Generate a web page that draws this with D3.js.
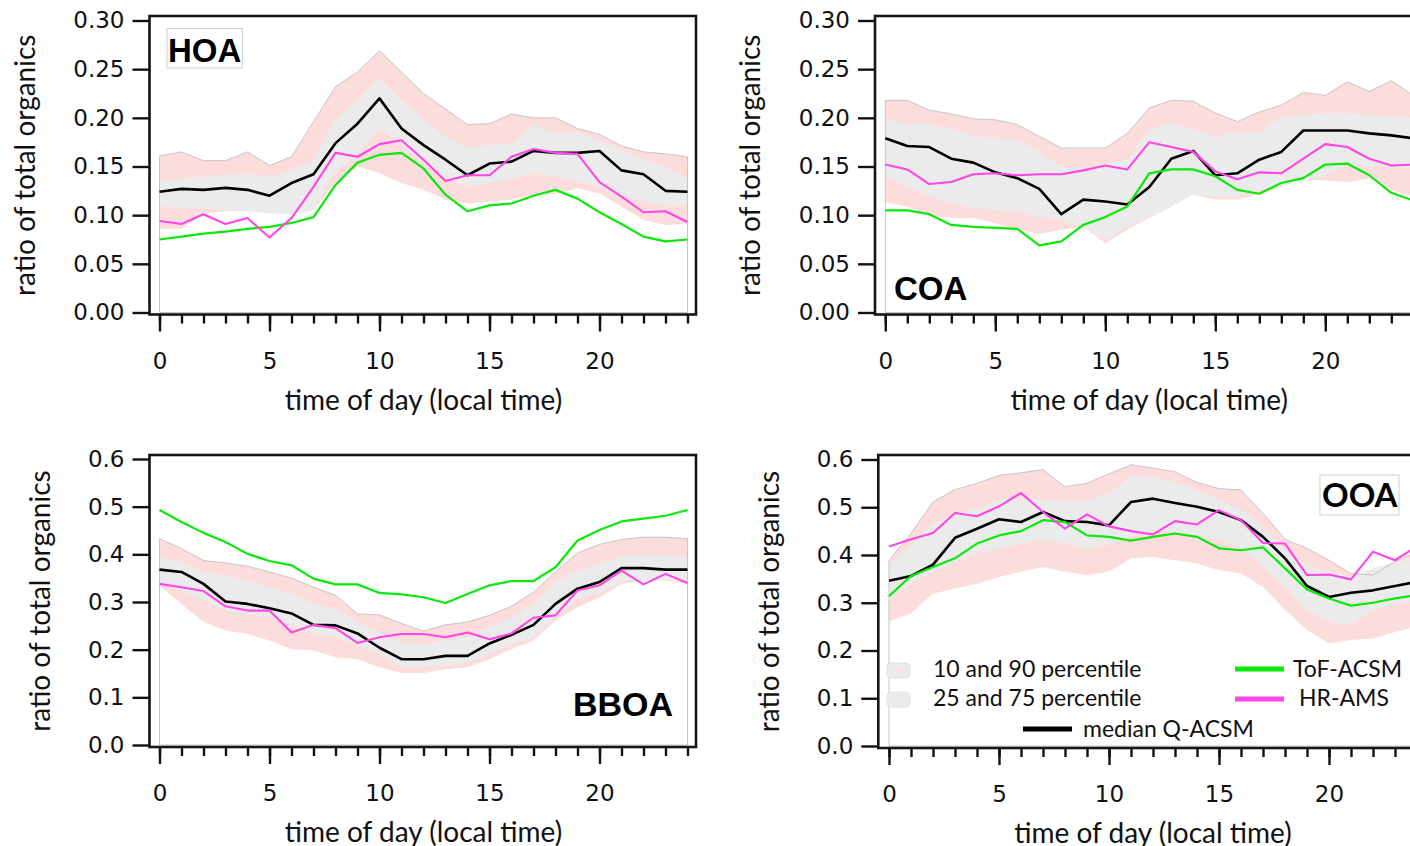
<!DOCTYPE html>
<html>
<head>
<meta charset="utf-8">
<script src="https://cdn.jsdelivr.net/npm/d3@7"></script>
<style>
  html, body { margin: 0; padding: 0; background: #fff; }
  svg { display: block; }
  .tick text { font-family: "DejaVu Sans", sans-serif; font-size: 23px; fill: #111; }
  .ttl { font-family: Lato, "Open Sans", sans-serif; font-size: 28px; fill: #111; }
  .leg { font-family: Lato, "Open Sans", sans-serif; font-size: 23px; fill: #111; }
</style>
</head>
<body>
<script>
// Hour of day (local time)
const hours = [0,1,2,3,4,5,6,7,8,9,10,11,12,13,14,15,16,17,18,19,20,21,22,23,24];
const xMajorTicks = [0,5,10,15,20];
const yTicksSmall = [0,0.05,0.10,0.15,0.20,0.25,0.30];
const yTicksLarge = [0,0.1,0.2,0.3,0.4,0.5,0.6];

// HOA: Q-ACSM percentiles and median, ToF-ACSM, HR-AMS
const hoaP10 = [0.086,0.086,0.102,0.104,0.104,0.102,0.101,0.105,0.133,0.150,0.143,0.133,0.126,0.116,0.112,0.114,0.116,0.121,0.122,0.128,0.122,0.109,0.095,0.090,0.091];
const hoaP25 = [0.109,0.107,0.107,0.105,0.104,0.102,0.101,0.105,0.146,0.163,0.189,0.172,0.153,0.138,0.129,0.133,0.138,0.143,0.140,0.134,0.129,0.121,0.114,0.109,0.110];
const hoaP75 = [0.136,0.138,0.140,0.141,0.143,0.139,0.146,0.157,0.198,0.218,0.241,0.218,0.198,0.181,0.169,0.172,0.174,0.193,0.184,0.186,0.176,0.167,0.157,0.150,0.138];
const hoaP90 = [0.161,0.165,0.156,0.156,0.165,0.151,0.160,0.196,0.232,0.247,0.269,0.247,0.225,0.209,0.193,0.194,0.204,0.200,0.200,0.189,0.183,0.171,0.165,0.163,0.160];
const hoaMedian = [0.124,0.127,0.126,0.128,0.126,0.120,0.133,0.142,0.174,0.194,0.220,0.189,0.172,0.157,0.141,0.153,0.155,0.166,0.164,0.164,0.166,0.146,0.142,0.125,0.124];
const hoaTof = [0.075,0.078,0.081,0.083,0.086,0.088,0.092,0.098,0.131,0.154,0.162,0.164,0.148,0.121,0.104,0.110,0.112,0.120,0.126,0.117,0.103,0.091,0.078,0.073,0.075];
const hoaHr = [0.094,0.091,0.101,0.091,0.097,0.077,0.097,0.129,0.164,0.160,0.173,0.177,0.157,0.135,0.141,0.141,0.160,0.168,0.164,0.163,0.134,0.119,0.103,0.104,0.093];

// COA
const coaP10 = [0.113,0.109,0.100,0.097,0.097,0.092,0.085,0.081,0.085,0.088,0.071,0.085,0.097,0.109,0.121,0.116,0.116,0.122,0.129,0.136,0.136,0.134,0.138,0.126,0.119];
const coaP25 = [0.140,0.129,0.119,0.112,0.107,0.105,0.104,0.098,0.095,0.086,0.075,0.088,0.098,0.109,0.121,0.119,0.119,0.126,0.129,0.136,0.140,0.152,0.150,0.150,0.148];
const coaP75 = [0.198,0.194,0.193,0.189,0.181,0.179,0.177,0.165,0.150,0.148,0.153,0.157,0.189,0.194,0.189,0.181,0.185,0.186,0.200,0.203,0.205,0.205,0.203,0.201,0.200];
const coaP90 = [0.218,0.218,0.208,0.204,0.199,0.198,0.193,0.181,0.169,0.169,0.169,0.184,0.210,0.218,0.217,0.205,0.196,0.206,0.213,0.226,0.223,0.237,0.227,0.238,0.223];
const coaMedian = [0.179,0.171,0.170,0.158,0.154,0.144,0.138,0.127,0.101,0.116,0.114,0.111,0.129,0.158,0.166,0.141,0.143,0.157,0.165,0.187,0.187,0.187,0.184,0.182,0.179];
const coaTof = [0.105,0.105,0.101,0.090,0.088,0.087,0.086,0.069,0.073,0.090,0.098,0.109,0.143,0.147,0.147,0.140,0.126,0.122,0.133,0.138,0.152,0.153,0.141,0.123,0.115];
const coaHr = [0.152,0.147,0.132,0.134,0.142,0.143,0.141,0.142,0.142,0.146,0.151,0.147,0.175,0.170,0.165,0.145,0.137,0.144,0.143,0.158,0.173,0.170,0.158,0.151,0.152];

// BBOA
const bboaP10 = [0.335,0.296,0.258,0.240,0.233,0.219,0.201,0.198,0.184,0.180,0.163,0.151,0.151,0.159,0.163,0.180,0.201,0.219,0.261,0.289,0.310,0.338,0.345,0.345,0.338];
const bboaP25 = [0.338,0.324,0.303,0.282,0.275,0.268,0.254,0.233,0.226,0.208,0.191,0.163,0.163,0.166,0.173,0.191,0.212,0.226,0.268,0.307,0.317,0.345,0.345,0.345,0.342];
const bboaP75 = [0.394,0.384,0.363,0.356,0.345,0.331,0.317,0.296,0.286,0.258,0.236,0.215,0.212,0.219,0.226,0.247,0.268,0.296,0.342,0.366,0.380,0.394,0.398,0.398,0.394];
const bboaP90 = [0.433,0.412,0.387,0.382,0.375,0.363,0.350,0.331,0.314,0.275,0.273,0.255,0.239,0.252,0.258,0.272,0.291,0.321,0.363,0.403,0.421,0.431,0.436,0.436,0.433];
const bboaMedian = [0.368,0.363,0.338,0.301,0.296,0.287,0.276,0.252,0.251,0.234,0.204,0.180,0.180,0.187,0.187,0.213,0.231,0.252,0.296,0.328,0.342,0.371,0.371,0.368,0.368];
const bboaTof = [0.493,0.468,0.445,0.426,0.401,0.386,0.377,0.349,0.337,0.337,0.319,0.316,0.310,0.298,0.317,0.335,0.344,0.344,0.373,0.429,0.451,0.469,0.475,0.481,0.493];
const bboaHr = [0.338,0.331,0.323,0.291,0.282,0.282,0.236,0.252,0.245,0.214,0.226,0.233,0.233,0.226,0.236,0.222,0.234,0.267,0.272,0.324,0.335,0.366,0.337,0.359,0.340];

// OOA
const ooaP10 = [0.260,0.278,0.319,0.330,0.340,0.354,0.365,0.375,0.365,0.358,0.365,0.393,0.396,0.389,0.382,0.368,0.361,0.333,0.285,0.243,0.215,0.222,0.225,0.239,0.250];
const ooaP25 = [0.305,0.340,0.365,0.386,0.403,0.414,0.424,0.431,0.424,0.414,0.421,0.438,0.452,0.448,0.438,0.431,0.414,0.375,0.333,0.285,0.260,0.253,0.285,0.298,0.305];
const ooaP75 = [0.379,0.424,0.466,0.487,0.497,0.515,0.518,0.518,0.511,0.515,0.529,0.567,0.563,0.553,0.536,0.515,0.497,0.459,0.410,0.379,0.365,0.354,0.372,0.386,0.389];
const ooaP90 = [0.389,0.445,0.511,0.537,0.550,0.567,0.572,0.579,0.543,0.550,0.570,0.589,0.582,0.574,0.552,0.539,0.536,0.487,0.433,0.414,0.389,0.361,0.358,0.386,0.407];
const ooaMedian = [0.346,0.356,0.380,0.436,0.455,0.475,0.469,0.490,0.471,0.469,0.462,0.511,0.518,0.509,0.501,0.490,0.473,0.438,0.393,0.335,0.312,0.321,0.326,0.335,0.344];
const ooaTof = [0.314,0.356,0.375,0.393,0.424,0.441,0.450,0.473,0.469,0.441,0.438,0.430,0.438,0.445,0.438,0.414,0.410,0.416,0.372,0.328,0.309,0.294,0.300,0.309,0.316];
const ooaHr = [0.418,0.433,0.446,0.488,0.481,0.502,0.530,0.490,0.455,0.485,0.460,0.450,0.443,0.471,0.464,0.494,0.473,0.425,0.424,0.358,0.359,0.349,0.407,0.389,0.418];

const panelNames = ["HOA","COA","BBOA","OOA"];
const legendBands = ["10 and 90 percentile","25 and 75 percentile"];
const legendLines = ["ToF-ACSM","HR-AMS","median Q-ACSM"];
const xTitle = "time of day (local time)";
const yTitle = "ratio of total organics";

const PINK = "#fddcdc", GRAY = "#ebebeb", OUTLINE = "#c6c6c6";
const GREEN = "#0be80b", MAGENTA = "#ff45e6", BLACK = "#000";

const svg = d3.select("body").append("svg").attr("width", 1410).attr("height", 846);

// Panel frames
const layouts = [
  {axisX:149.5, x0:159.5, top:16,  axisY:314.5, yZero:312.5, yTopPx:20.5, yMax:0.30, ticks:yTicksSmall, fmt:".2f", titleX:25},
  {axisX:875,   x0:885.3, top:16,  axisY:314.5, yZero:312.5, yTopPx:20.5, yMax:0.30, ticks:yTicksSmall, fmt:".2f", titleX:750},
  {axisX:149.5, x0:159.5, top:455, axisY:747,   yZero:745,   yTopPx:459,  yMax:0.6,  ticks:yTicksLarge, fmt:".1f", titleX:40},
  {axisX:878.3, x0:889,   top:455, axisY:748,   yZero:746,   yTopPx:459.5,yMax:0.6,  ticks:yTicksLarge, fmt:".1f", titleX:769}
];

const datasets = [
  {p10:hoaP10, p25:hoaP25, p75:hoaP75, p90:hoaP90, med:hoaMedian, tof:hoaTof, hr:hoaHr},
  {p10:coaP10, p25:coaP25, p75:coaP75, p90:coaP90, med:coaMedian, tof:coaTof, hr:coaHr},
  {p10:bboaP10, p25:bboaP25, p75:bboaP75, p90:bboaP90, med:bboaMedian, tof:bboaTof, hr:bboaHr},
  {p10:ooaP10, p25:ooaP25, p75:ooaP75, p90:ooaP90, med:ooaMedian, tof:ooaTof, hr:ooaHr}
];

layouts.forEach((L, k) => {
  const d = datasets[k];
  const x = d3.scaleLinear().domain([0, 24]).range([L.x0, L.x0 + 528]);
  const y = d3.scaleLinear().domain([0, L.yMax]).range([L.yZero, L.yTopPx]);
  const g = svg.append("g");

  const area = d3.area().x((v, i) => x(hours[i])).y0(y(0)).y1(v => y(v));
  const line = d3.line().x((v, i) => x(hours[i])).y(v => y(v));

  // Percentile bands: stacked fills down to zero
  g.append("path").attr("d", area(d.p90)).attr("fill", PINK);
  g.append("path").attr("d", area(d.p75)).attr("fill", GRAY);
  g.append("path").attr("d", area(d.p25)).attr("fill", PINK);
  g.append("path").attr("d", area(d.p10)).attr("fill", "#fff");
  g.append("path").attr("d", area(d.p90)).attr("fill", "none")
    .attr("stroke", OUTLINE).attr("stroke-width", 1);

  // Series lines
  g.append("path").attr("d", line(d.med)).attr("fill", "none")
    .attr("stroke", BLACK).attr("stroke-width", 2.6).attr("stroke-linejoin", "round");
  g.append("path").attr("d", line(d.tof)).attr("fill", "none")
    .attr("stroke", GREEN).attr("stroke-width", 2.2).attr("stroke-linejoin", "round");
  g.append("path").attr("d", line(d.hr)).attr("fill", "none")
    .attr("stroke", MAGENTA).attr("stroke-width", 2.1).attr("stroke-linejoin", "round");

  // Frame
  const right = L.x0 + 528 + 8.5;
  g.append("rect").attr("x", L.axisX).attr("y", L.top)
    .attr("width", right - L.axisX).attr("height", L.axisY - L.top)
    .attr("fill", "none").attr("stroke", "#151515").attr("stroke-width", 2.6);

  // Y axis
  const ya = g.append("g").attr("transform", `translate(${L.axisX},0)`)
    .call(d3.axisLeft(y).tickValues(L.ticks).tickFormat(d3.format(L.fmt))
      .tickSize(17).tickPadding(8));
  ya.select(".domain").remove();
  ya.selectAll(".tick line").attr("stroke", "#111").attr("stroke-width", 2.4);

  // X axis: hourly minor ticks, labelled major ticks
  const xm = g.append("g").attr("transform", `translate(0,${L.axisY})`)
    .call(d3.axisBottom(x).tickValues(hours).tickFormat("").tickSize(9));
  xm.select(".domain").remove();
  xm.selectAll(".tick line").attr("stroke", "#111").attr("stroke-width", 2.4);
  const xa = g.append("g").attr("transform", `translate(0,${L.axisY})`)
    .call(d3.axisBottom(x).tickValues(xMajorTicks).tickFormat(d3.format("d"))
      .tickSize(17).tickPadding(21));
  xa.select(".domain").remove();
  xa.selectAll(".tick line").attr("stroke", "#111").attr("stroke-width", 2.4);

  // Axis titles
  g.append("text").attr("class", "ttl")
    .attr("x", x(12)).attr("y", L.axisY + 95)
    .attr("text-anchor", "middle").text(xTitle);
  const cy = (L.top + L.axisY) / 2;
  g.append("text").attr("class", "ttl")
    .attr("transform", `translate(${L.titleX + 10},${cy}) rotate(-90)`)
    .attr("text-anchor", "middle").text(yTitle);
});

// Panel labels
const lab = svg.append("g").attr("font-weight", "bold").attr("fill", "#000");
{
  const t = lab.append("text").attr("x", 168).attr("y", 62)
    .attr("font-family", "'Liberation Sans', Arial, sans-serif").attr("font-size", 33)
    .text(panelNames[0]);
  const b = t.node().getBBox();
  lab.insert("rect", "text").attr("x", b.x - 1).attr("y", 28.5)
    .attr("width", b.width + 2).attr("height", 39.5)
    .attr("fill", "#fff").attr("stroke", "#cfcfcf").attr("stroke-width", 1);
}
lab.append("text").attr("x", 894).attr("y", 300)
  .attr("font-family", "'Liberation Sans', Arial, sans-serif").attr("font-size", 33)
  .text(panelNames[1]);
lab.append("text").attr("x", 573).attr("y", 716)
  .attr("font-family", "'Liberation Sans', Arial, sans-serif").attr("font-size", 34)
  .text(panelNames[2]);
{
  lab.append("rect").attr("x", 1320).attr("y", 475).attr("width", 79).attr("height", 40)
    .attr("fill", "#fff").attr("stroke", "#cfcfcf").attr("stroke-width", 1);
  lab.append("text").attr("x", 1322).attr("y", 507)
    .attr("font-family", "Lato, 'Open Sans', sans-serif").attr("font-size", 33)
    .text(panelNames[3]);
}

// Legend in the OOA panel
const lg = svg.append("g");
[663, 692].forEach((yy, i) => {
  lg.append("rect").attr("x", 887).attr("y", yy).attr("width", 23).attr("height", 15)
    .attr("rx", 4).attr("fill", GRAY).attr("stroke", "#e2e2e2").attr("stroke-width", 1);
  if (i === 0) {
    lg.append("line").attr("x1", 893).attr("x2", 904).attr("y1", yy + 7.5).attr("y2", yy + 7.5)
      .attr("stroke", PINK).attr("stroke-width", 1.5);
  }
  lg.append("text").attr("class", "leg").attr("x", 933).attr("y", yy + 14).text(legendBands[i]);
});
const legLineItems = [
  {x1:1235, x2:1284, y:669, color:GREEN,   tx:1293, ty:677, label:legendLines[0]},
  {x1:1235, x2:1284, y:699, color:MAGENTA, tx:1299, ty:706, label:legendLines[1]},
  {x1:1023, x2:1072, y:729, color:BLACK,   tx:1083, ty:737, label:legendLines[2]}
];
legLineItems.forEach(it => {
  lg.append("line").attr("x1", it.x1).attr("x2", it.x2).attr("y1", it.y).attr("y2", it.y)
    .attr("stroke", it.color).attr("stroke-width", 5);
  lg.append("text").attr("class", "leg").attr("x", it.tx).attr("y", it.ty).text(it.label);
});
</script>
</body>
</html>
